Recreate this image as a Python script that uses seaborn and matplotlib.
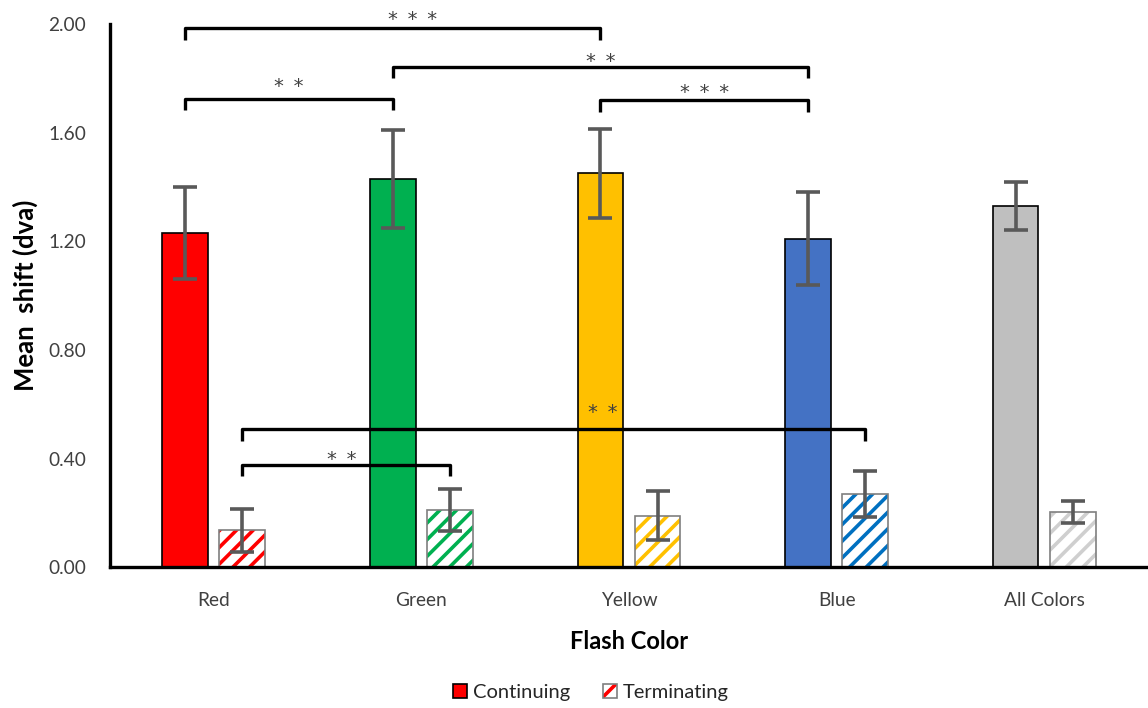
import numpy as np
import pandas as pd
import matplotlib
matplotlib.use("Agg")
import matplotlib.pyplot as plt
from matplotlib.patches import Patch, Rectangle
from matplotlib.legend_handler import HandlerTuple
import seaborn as sns

# ---------------- data ----------------
categories = ["Red", "Green", "Yellow", "Blue", "All Colors"]
conditions = ["Continuing", "Terminating"]
continuing_mean = [1.23, 1.43, 1.45, 1.21, 1.33]
continuing_err = [0.17, 0.18, 0.165, 0.17, 0.087]
terminating_mean = [0.135, 0.21, 0.19, 0.27, 0.203]
terminating_err = [0.078, 0.078, 0.09, 0.085, 0.042]
yticks = [0.0, 0.4, 0.8, 1.2, 1.6, 2.0]
ytick_labels = ["0.00", "0.40", "0.80", "1.20", "1.60", "2.00"]

continuing_colors = ["#FF0000", "#00B050", "#FFC000", "#4472C4", "#BFBFBF"]
terminating_colors = ["#FF0000", "#00B050", "#FFC000", "#0070C0", "#CFCFCF"]

# significance comparisons: (category A, condition A, category B, condition B, bracket height, label)
comparisons = [
    ("Red", "Continuing", "Yellow", "Continuing", 1.985, "*\u2002*\u2002*"),
    ("Red", "Continuing", "Green", "Continuing", 1.724, "*\u2002*"),
    ("Green", "Continuing", "Blue", "Continuing", 1.842, "*\u2002*"),
    ("Yellow", "Continuing", "Blue", "Continuing", 1.72, "*\u2002*\u2002*"),
    ("Red", "Terminating", "Blue", "Terminating", 0.508, "*\u2002*"),
    ("Red", "Terminating", "Green", "Terminating", 0.376, "*\u2002*"),
]
# label placement tweaks (points): horizontal shift, vertical offset
label_shift = [(14, 2.2), (0, 5), (0, 0.3), (0, 1.4), (35, 8), (-3, 0.3)]

# ---------------- style ----------------
sns.set_theme(style="white")
plt.rcParams["font.family"] = ["Lato", "DejaVu Sans"]
plt.rcParams["hatch.linewidth"] = 2.6

df = pd.DataFrame({
    "Flash Color": categories * 2,
    "Condition": [conditions[0]] * len(categories) + [conditions[1]] * len(categories),
    "shift": continuing_mean + terminating_mean,
})

fig = plt.figure(figsize=(11.48, 7.08), dpi=100)
ax = fig.add_axes([0.0958, 0.199, 0.9042, 0.767])

sns.barplot(data=df, x="Flash Color", y="shift", hue="Condition",
            order=categories, hue_order=conditions, width=0.55, gap=0.2,
            errorbar=None, legend=False, ax=ax,
            palette=["#FF0000", "#FFFFFF"])

cont_bars = list(ax.containers[0])
term_bars = list(ax.containers[1])

for bar, c in zip(cont_bars, continuing_colors):
    bar.set_facecolor(c)
    bar.set_edgecolor("black")
    bar.set_linewidth(1.2)

for bar, c in zip(term_bars, terminating_colors):
    bar.set_facecolor("white")
    bar.set_edgecolor(c)
    bar.set_hatch("//")
    bar.set_linewidth(0)
    outline = Rectangle(bar.get_xy(), bar.get_width(), bar.get_height(),
                        fill=False, edgecolor="#7F7F7F", linewidth=1.2, zorder=bar.get_zorder() + 0.1)
    ax.add_patch(outline)

def centers(bars):
    return [b.get_x() + b.get_width() / 2 for b in bars]

ax.errorbar(centers(cont_bars), continuing_mean, yerr=continuing_err, fmt="none",
            ecolor="#595959", elinewidth=2.6, capsize=8.5, capthick=2.6, zorder=5)
ax.errorbar(centers(term_bars), terminating_mean, yerr=terminating_err, fmt="none",
            ecolor="#595959", elinewidth=2.6, capsize=8.5, capthick=2.6, zorder=5)

pos = {}
for cond, bars in zip(conditions, [cont_bars, term_bars]):
    for cat, x in zip(categories, centers(bars)):
        pos[(cat, cond)] = x

hook = 0.042
for (ca, cda, cb, cdb, yb, lab), (dx, dy) in zip(comparisons, label_shift):
    xa, xb = pos[(ca, cda)], pos[(cb, cdb)]
    ax.plot([xa, xa, xb, xb], [yb - hook, yb, yb, yb - hook], color="black", lw=2.4,
            solid_joinstyle="round", solid_capstyle="butt", clip_on=False, zorder=6)
    ax.annotate(lab, xy=((xa + xb) / 2, yb), xytext=(dx, dy), textcoords="offset points",
                ha="center", va="baseline", fontsize=14, color="#404040",
                family="DejaVu Sans", annotation_clip=False, zorder=7)

ax.set_ylim(0, 2.0)
ax.set_xlim(-0.5, 4.5)
ax.set_yticks(yticks)
ax.set_yticklabels(ytick_labels)
ax.tick_params(axis="both", length=0, labelsize=13.8, labelcolor="#404040")
ax.tick_params(axis="y", pad=17)
ax.tick_params(axis="x", pad=18)

for side in ["top", "right"]:
    ax.spines[side].set_visible(False)
for side in ["left", "bottom"]:
    ax.spines[side].set_color("black")
    ax.spines[side].set_linewidth(2.4)

ax.set_ylabel("Mean  shift (dva)", fontsize=18.5, fontweight="bold", color="black")
ax.set_xlabel("Flash Color", fontsize=17, fontweight="bold", color="black")
ax.yaxis.set_label_coords(-0.069, 0.5)
ax.xaxis.set_label_coords(0.5, -0.115)

handles = [
    Patch(facecolor="#FF0000", edgecolor="black", linewidth=1.2),
    (Patch(facecolor="white", edgecolor="#FF0000", hatch="//", linewidth=0),
     Patch(facecolor="none", edgecolor="#7F7F7F", linewidth=1.2)),
]
fig.legend(handles, conditions, loc="center", bbox_to_anchor=(0.515, 0.022), ncol=2,
           frameon=False, fontsize=14.5, handlelength=0.7, handleheight=0.7,
           handletextpad=0.3, columnspacing=1.6,
           handler_map={tuple: HandlerTuple(ndivide=1, pad=0)})

fig.savefig("out.png", dpi=100)
